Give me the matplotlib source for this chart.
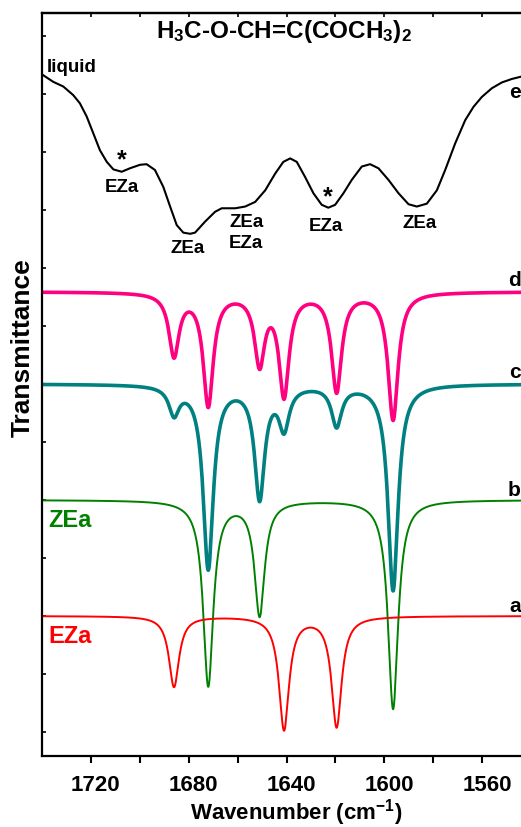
import numpy as np
import matplotlib.pyplot as plt
import matplotlib.transforms as mtrans

plt.rcParams['font.family'] = 'Liberation Sans'
plt.rcParams['font.weight'] = 'bold'
plt.rcParams['mathtext.fontset'] = 'custom'
plt.rcParams['mathtext.rm'] = 'Liberation Sans:bold'
plt.rcParams['mathtext.bf'] = 'Liberation Sans:bold'
plt.rcParams['mathtext.it'] = 'Liberation Sans:bold'
plt.rcParams['mathtext.default'] = 'bf'

# band centres (cm-1) used by the calculated spectra a-d
peaks = [1686.0, 1672.0, 1651.0, 1641.0, 1619.5, 1596.4]
halfwidth = 2.5

# band depths (arb. units) for each trace, same order as peaks
depth_a = [1.22, 0.0, 0.0, 1.95, 1.90, 0.0]       # EZa
depth_b = [0.0, 3.19, 1.97, 0.0, 0.0, 3.60]       # ZEa
depth_c = [0.47, 3.16, 1.93, 0.71, 0.69, 3.55]
depth_d = [1.07, 1.93, 1.19, 1.74, 1.69, 2.19]
base_a, base_b, base_c, base_d = 2.0, 4.0, 6.0, 7.59

# e: liquid spectrum
liquid_wn = [1739.7, 1735.4, 1731.3, 1727.2, 1724.5, 1721.7, 1719.0, 1716.3, 1713.5, 1710.8,
             1707.4, 1704.0, 1699.9, 1697.2, 1693.8, 1690.4, 1687.6, 1684.9, 1682.2, 1679.4,
             1677.4, 1673.3, 1669.2, 1666.5, 1661.0, 1656.9, 1652.8, 1648.7, 1644.6, 1641.3,
             1638.5, 1635.8, 1632.4, 1629.0, 1625.6, 1622.9, 1620.1, 1616.7, 1613.3, 1609.2,
             1605.8, 1602.4, 1598.3, 1594.2, 1590.1, 1586.7, 1582.6, 1578.5, 1575.1, 1571.0,
             1566.9, 1563.5, 1560.1, 1556.0, 1551.9, 1547.8, 1544.0, 1540.0]
liquid_t = [11.33, 11.21, 11.13, 10.98, 10.84, 10.61, 10.32, 10.03, 9.83, 9.70,
            9.66, 9.72, 9.78, 9.79, 9.69, 9.40, 9.06, 8.74, 8.61, 8.59,
            8.61, 8.80, 8.97, 9.03, 9.03, 9.06, 9.14, 9.34, 9.63, 9.83,
            9.89, 9.83, 9.57, 9.29, 9.09, 9.04, 9.09, 9.29, 9.52, 9.75,
            9.79, 9.72, 9.52, 9.29, 9.10, 9.06, 9.11, 9.34, 9.69, 10.15,
            10.55, 10.78, 10.95, 11.10, 11.20, 11.26, 11.30, 11.32]

trace_names = ['e', 'd', 'c', 'b', 'a']

wn = np.linspace(1540, 1740, 4001)


def spectrum(base, depths):
    t = np.full_like(wn, base)
    for p, d in zip(peaks, depths):
        t -= d * halfwidth**2 / ((wn - p)**2 + halfwidth**2)
    return t


fig = plt.figure(figsize=(5.21, 8.27), dpi=100)
# axes run a bit past the right edge, as in the original crop
ax = fig.add_axes([42/521, 71/827, 489/521, 743/827])

ax.plot(liquid_wn, liquid_t, color='black', lw=1.5)
ax.plot(wn, spectrum(base_d, depth_d), color='#ff0080', lw=2.6)
ax.plot(wn, spectrum(base_c, depth_c), color='#008080', lw=2.6)
ax.plot(wn, spectrum(base_b, depth_b), color='#008000', lw=1.4)
ax.plot(wn, spectrum(base_a, depth_a), color='#ff0000', lw=1.4)

ax.set_xlim(1740, 1540)
ax.set_ylim(-0.414, 12.397)

ax.set_xticks(np.arange(1720, 1550, -40))
ax.set_xticks(np.arange(1700, 1570, -40), minor=True)
ax.set_yticks(np.arange(0, 13, 1))
ax.set_yticklabels([])
ax.tick_params(axis='x', which='both', direction='out', length=5, width=1.5,
               labelsize=16, pad=9, top=False)
ax.tick_params(axis='y', which='both', direction='in', length=3, width=1.2)
for s in ax.spines.values():
    s.set_linewidth(1.6)

# top axis ticks point inwards
sec = ax.secondary_xaxis('top')
sec.set_xticks(np.arange(1720, 1550, -20))
sec.set_xticklabels([])
sec.tick_params(direction='in', length=3, width=1.2)
sec.spines['top'].set_linewidth(1.6)

shift = mtrans.ScaledTranslation(5/100, 0, fig.dpi_scale_trans)
for lab in ax.get_xticklabels():
    lab.set_transform(lab.get_transform() + shift)

fig.text(296/521, 1 - 813/827, 'Wavenumber (cm$^{-1}$)', ha='center', va='center', fontsize=16)
fig.text(23/521, 1 - 348/827, 'Transmittance', ha='center', va='center', rotation=90, fontsize=19)

ax.text(1641.0, 12.08, r'H$_3$C-O-CH=C(COCH$_3$)$_2$', ha='center', va='center', fontsize=17.5)
ax.text(1738.0, 11.45, 'liquid', ha='left', va='center', fontsize=13.5)

lab_size = 13.5
ax.text(1707.3, 9.86, '*', ha='center', va='center', fontsize=18)
ax.text(1707.4, 9.38, 'EZa', ha='center', va='center', fontsize=lab_size)
ax.text(1680.3, 8.34, 'ZEa', ha='center', va='center', fontsize=lab_size)
ax.text(1656.5, 8.79, 'ZEa', ha='center', va='center', fontsize=lab_size)
ax.text(1656.5, 8.43, 'EZa', ha='center', va='center', fontsize=lab_size)
ax.text(1623.0, 9.22, '*', ha='center', va='center', fontsize=18)
ax.text(1623.8, 8.72, 'EZa', ha='center', va='center', fontsize=lab_size)
ax.text(1585.7, 8.76, 'ZEa', ha='center', va='center', fontsize=lab_size)

ax.text(1737.5, 3.64, 'ZEa', color='#008000', ha='left', va='center', fontsize=17)
ax.text(1737.5, 1.64, 'EZa', color='#ff0000', ha='left', va='center', fontsize=17)

# trace letters sit right at the figure edge
for y, s in zip([11.02, 7.79, 6.19, 4.17, 2.16], trace_names):
    ax.text(1544.2, y, s, ha='right', va='center', fontsize=15)

fig.savefig('out.png', dpi=100)
